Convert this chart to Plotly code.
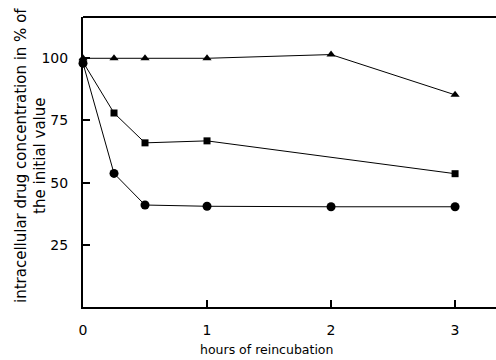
import plotly.graph_objects as go

hours = [0, 0.25, 0.5, 1, 2, 3]
triangle_vals = [100, 100, 100, 100, 101.5, 85.3]
square_hours = [0, 0.25, 0.5, 1, 3]
square_vals = [98.5, 78, 66, 66.8, 53.6]
circle_vals = [98, 53.7, 41, 40.5, 40.3, 40.3]

x_ticks = [0, 1, 2, 3]
y_ticks = [25, 50, 75, 100]

fig = go.Figure()
line = dict(color="black", width=1)
fig.add_trace(go.Scatter(x=hours, y=triangle_vals, mode="lines+markers", line=line,
                         marker=dict(symbol="triangle-up", size=8, color="black"), cliponaxis=False))
fig.add_trace(go.Scatter(x=square_hours, y=square_vals, mode="lines+markers", line=line,
                         marker=dict(symbol="square", size=7, color="black"), cliponaxis=False))
fig.add_trace(go.Scatter(x=hours, y=circle_vals, mode="lines+markers", line=line,
                         marker=dict(symbol="circle", size=9, color="black"), cliponaxis=False))

font = dict(family="DejaVu Sans, sans-serif", size=14, color="black")
fig.update_layout(
    width=496, height=360, margin=dict(l=83, r=0, t=17, b=53),
    paper_bgcolor="white", plot_bgcolor="white", showlegend=False, font=font,
    xaxis=dict(range=[0, 3.33], tickvals=x_ticks, ticks="inside", ticklen=7, tickwidth=1.5,
               tickcolor="black", showline=True, linecolor="black", linewidth=2, mirror=False,
               showgrid=False, zeroline=False, ticklabelstandoff=9,
               tickfont=dict(family="DejaVu Sans, sans-serif", size=14)),
    yaxis=dict(range=[0, 116.6], tickvals=y_ticks, ticks="inside", ticklen=7, tickwidth=1.5,
               tickcolor="black", showline=True, linecolor="black", linewidth=2, mirror=False,
               showgrid=False, zeroline=False, ticklabelstandoff=10,
               tickfont=dict(family="DejaVu Sans, sans-serif", size=14)),
    shapes=[dict(type="line", xref="paper", yref="paper", x0=0, x1=1, y0=1, y1=1,
                 line=dict(color="black", width=2))],
    annotations=[
        dict(text="intracellular drug concentration in % of<br>the initial value",
             xref="paper", yref="paper", x=-0.126, y=0.524, xanchor="center", yanchor="middle",
             textangle=-90, showarrow=False,
             font=dict(family="DejaVu Sans, sans-serif", size=15)),
        dict(text="hours of reincubation", xref="paper", yref="paper", x=0.445, y=-0.145,
             xanchor="center", yanchor="middle", showarrow=False,
             font=dict(family="DejaVu Sans, sans-serif", size=12.5)),
    ],
)
fig.write_html("out.html")
